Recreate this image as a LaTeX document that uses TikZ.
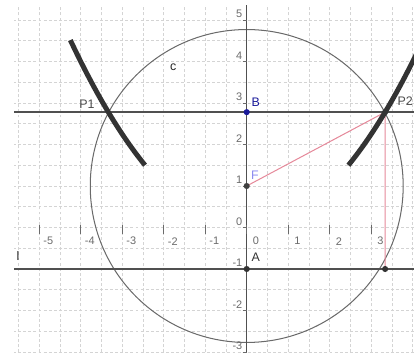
\documentclass[tikz,border=0pt]{standalone}
\usepackage{fontspec}
\setmainfont{Liberation Sans}
\definecolor{gridc}{HTML}{D4D4D4}
\definecolor{linec}{HTML}{505050}
\definecolor{redc}{HTML}{E5899A}
\definecolor{labc}{HTML}{6A6A6A}
\definecolor{bblue}{HTML}{1A1A9A}
\definecolor{fblue}{HTML}{8C8CF0}
\begin{document}
\begin{tikzpicture}[x=1cm,y=1cm,
  gridline/.style={draw=gridc,line width=0.5pt,dash pattern=on 2pt off 1.5pt},
  thinline/.style={draw=linec,line width=0.9pt},
  circline/.style={draw=linec!85,line width=0.7pt},
  redline/.style={draw=redc,line width=0.7pt},
  para/.style={draw=black!80,line width=3.4pt},
  axlab/.style={text=labc,font=\fontsize{7.5}{9}\selectfont,inner sep=0pt},
  ptlab/.style={font=\fontsize{8.5}{10}\selectfont,inner sep=0pt},
  dot/.style={circle,fill=#1,inner sep=0pt,minimum size=4.2pt}]
\useasboundingbox (-5.945,-3.024) rectangle (4.031,5.482);
\coordinate (F) at (0,1);
\coordinate (B) at (0,2.78);
\coordinate (A) at (0,-1);
\coordinate (P1) at (-3.335,2.78);
\coordinate (P2) at (3.335,2.78);
\coordinate (Q) at (3.335,-1);
\coordinate (BL) at (-5.607,2.78);
\coordinate (BR) at (4.031,2.78);
\coordinate (LL) at (-5.607,-1);
\coordinate (LR) at (4.031,-1);
\coordinate (YT) at (0,5.36);
\coordinate (YB) at (0,-3.024);
\begin{scope}
\clip (-5.607,-3.024) rectangle (4.031,5.36);
\draw[gridline] (-6,-3.5) grid[step=0.5] (4.5,6);
\draw[circline] (F) circle (3.77);
\draw[draw=linec,line width=0.6pt] (YB) -- (YT);
\foreach \k in {-5,...,3} \draw[draw=labc,line width=0.4pt] (\k,0.05) -- (\k,-0.15);
\foreach \k in {-3,...,5} \draw[draw=labc,line width=0.4pt] (-0.1,\k) -- (0,\k);
\draw[thinline] (BL) -- (BR);
\draw[thinline] (LL) -- (LR);
\draw[redline] (F) -- (P2) -- (Q);
\draw[para] plot[domain=-4.25:-2.45,samples=40] (\x,{\x*\x/4});
\draw[para] plot[domain=2.45:4.3,samples=40] (\x,{\x*\x/4});
\end{scope}
\foreach \k in {-5,...,3} \node[axlab] at (\k+0.22,-0.33) {\k};
\foreach \k in {-3,...,5} \node[axlab,anchor=east] at (-0.1,\k+0.15) {\k};
\node[dot=bblue] (nB) at (B) {};
\node[dot=black!75] (nF) at (F) {};
\node[dot=black!80] (nA) at (A) {};
\node[dot=black!80] (nQ) at (Q) {};
\node[dot=black!80] (nP2) at (P2) {};
\node[ptlab,text=bblue] at (0.22,3.03) {B};
\node[ptlab,text=fblue] at (0.2,1.26) {F};
\node[ptlab,text=black!80] at (0.22,-0.72) {A};
\node[ptlab,text=black!70] at (-3.85,2.98) {P1};
\node[ptlab,text=black!70] at (3.82,3.05) {P2};
\node[ptlab,text=black!85] at (-1.77,3.87) {c};
\node[ptlab,text=black!85] at (-5.51,-0.69) {l};
\end{tikzpicture}
\end{document}
